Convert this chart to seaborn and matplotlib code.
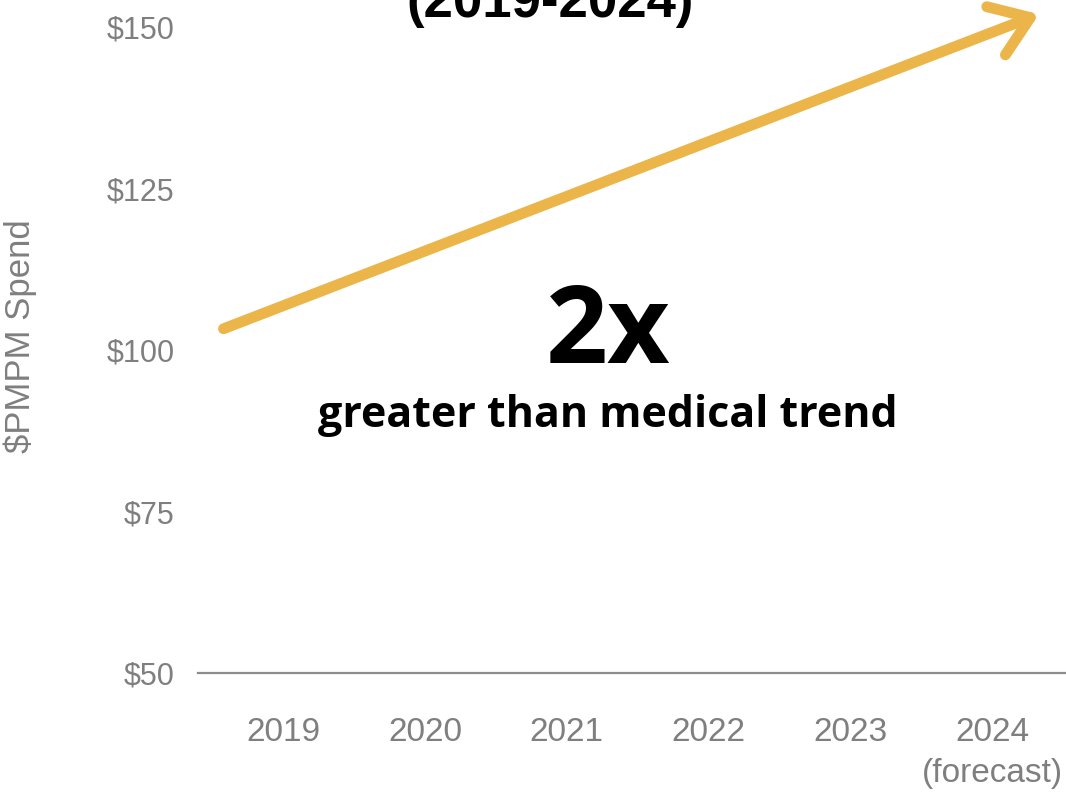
import matplotlib
matplotlib.use("Agg")
import matplotlib.pyplot as plt
import seaborn as sns
import pandas as pd
import numpy as np

# ---- data ----
years = ["2019", "2020", "2021", "2022", "2023", "2024\n(forecast)"]
y_ticks = [50, 75, 100, 125, 150]
y_tick_labels = ["$50", "$75", "$100", "$125", "$150"]
trend_start = [-0.42, 103.3]   # (category position, $PMPM)
trend_end = [5.33, 152.0]
headline = "2x"
subline = "greater than medical trend"
title_visible = "(2019-2024)"
y_label = "$PMPM Spend"

sns.set_theme(style="white")
plt.rcParams["font.family"] = ["Liberation Sans", "DejaVu Sans"]

fig = plt.figure(figsize=(10.66, 7.93), dpi=100)
ax = fig.add_axes([0.1857, 0.1513, 0.8143, 0.8487])

df = pd.DataFrame({"year": years, "value": [np.nan] * len(years)})
sns.pointplot(data=df, x="year", y="value", ax=ax, color="white")

ax.set_xlim(-0.6, 5.52)
ax.set_ylim(50, 154.2)

gray = "#7f7f7f"
narrow = ["Liberation Sans Narrow", "Liberation Sans", "DejaVu Sans"]

ax.set_yticks(y_ticks)
ax.set_yticklabels(y_tick_labels, color=gray, fontsize=22, family=["Liberation Sans", "DejaVu Sans"])
ax.set_xticks(range(len(years)))
ax.set_xticklabels(years, color=gray, fontsize=24, family=narrow, linespacing=1.4)
ax.tick_params(axis="y", length=0, pad=17)
ax.tick_params(axis="x", length=0, pad=32)
for lab in ax.get_xticklabels():
    lab.set_verticalalignment("top")
ax.set_xlabel("")
ax.set_ylabel(y_label, color=gray, fontsize=25, family=narrow, labelpad=50)

for s in ["top", "right", "left"]:
    ax.spines[s].set_visible(False)
ax.spines["bottom"].set_color("#8c8c8c")
ax.spines["bottom"].set_linewidth(1.6)

ax.annotate("", xy=(trend_end[0], trend_end[1]), xytext=(trend_start[0], trend_start[1]),
            arrowprops=dict(arrowstyle="->,head_length=2.2,head_width=1.55", color="#EBB54A",
                            lw=7.8, capstyle="round", joinstyle="round", shrinkA=0, shrinkB=0),
            annotation_clip=False)

ax.text(2.29, 102.4, headline, ha="center", va="center", fontsize=78, fontweight="bold",
        color="black", family=["Open Sans", "DejaVu Sans"])
ax.text(2.29, 89.8, subline, ha="center", va="center", fontsize=31, fontweight="bold",
        color="black", family=["Open Sans", "DejaVu Sans"])

fig.text(0.516, 0.965, title_visible, ha="center", va="bottom", fontsize=38, fontweight="bold",
         color="black", family=["Liberation Sans", "DejaVu Sans"])

fig.savefig("out.png", dpi=100, facecolor="white")
